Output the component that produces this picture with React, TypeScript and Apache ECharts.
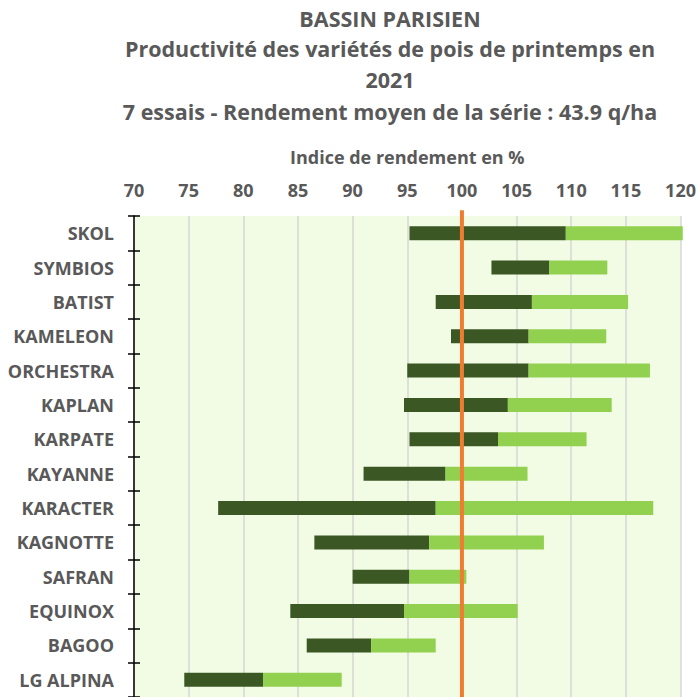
import React, { useEffect, useRef } from "react";
import * as echarts from "echarts";

const categories = ["SKOL", "SYMBIOS", "BATIST", "KAMELEON", "ORCHESTRA", "KAPLAN", "KARPATE", "KAYANNE", "KARACTER", "KAGNOTTE", "SAFRAN", "EQUINOX", "BAGOO", "LG ALPINA"];
const minValues = [95.2, 102.7, 97.6, 99.0, 95.0, 94.7, 95.2, 91.0, 77.7, 86.5, 90.0, 84.3, 85.8, 74.6];
const meanValues = [109.5, 108.0, 106.4, 106.1, 106.1, 104.2, 103.3, 98.5, 97.6, 97.0, 95.2, 94.7, 91.7, 81.8];
const maxValues = [120.2, 113.3, 115.2, 113.2, 117.2, 113.7, 111.4, 106.0, 117.5, 107.5, 100.4, 105.1, 97.6, 89.0];
const referenceValue = 100;
const titleLines = [
  "BASSIN PARISIEN",
  "Productivité des variétés de pois de printemps en",
  "2021",
  "7 essais - Rendement moyen de la série : 43.9 q/ha",
];
const xAxisName = "Indice de rendement en %";

const FONT = "'Open Sans', 'Noto Sans', sans-serif";
const GREY = "#595959";
const titleTops = [0, 30, 61, 93];

export default function App() {
  const ref = useRef<HTMLDivElement>(null);
  useEffect(() => {
    if (!ref.current) return;
    const chart = echarts.init(ref.current, null, { renderer: "svg" });
    const lowBand = meanValues.map((m, i) => +(m - minValues[i]).toFixed(2));
    const highBand = maxValues.map((m, i) => +(m - meanValues[i]).toFixed(2));
    chart.setOption({
      animation: false,
      title: titleLines.map((t, i) => ({
        text: t,
        left: 385,
        top: titleTops[i],
        textAlign: "center",
        textStyle: {
          fontFamily: FONT,
          fontWeight: "bold",
          fontSize: 21.5,
          color: GREY,
          lineHeight: 26,
        },
      })),
      grid: {
        left: 134,
        right: 15,
        top: 216,
        height: 484,
        show: true,
        backgroundColor: "#F2FCE4",
        borderWidth: 0,
      },
      xAxis: {
        type: "value",
        position: "top",
        min: 70,
        max: 120,
        interval: 5,
        name: xAxisName,
        nameLocation: "middle",
        nameGap: 50,
        nameTextStyle: { fontFamily: FONT, fontWeight: "bold", fontSize: 18, color: GREY },
        axisLine: { show: false },
        axisTick: { show: false },
        axisLabel: { fontFamily: FONT, fontWeight: "bold", fontSize: 18, color: GREY, margin: 17 },
        splitLine: { show: true, lineStyle: { color: "#D6D6D6", width: 1.5 } },
      },
      yAxis: [
        {
          type: "category",
          data: categories,
          inverse: true,
          position: "left",
          axisLine: { show: true, lineStyle: { color: "#000", width: 1.5 } },
          axisTick: { show: true, length: 6, lineStyle: { color: "#000", width: 1.5 } },
          axisLabel: { fontFamily: FONT, fontWeight: "bold", fontSize: 18, color: GREY, margin: 20 },
          splitLine: { show: false },
        },
        {
          type: "category",
          data: categories,
          inverse: true,
          position: "left",
          offset: 0,
          axisLine: { show: false },
          axisTick: { show: true, inside: true, length: 6, lineStyle: { color: "#000", width: 1.5 } },
          axisLabel: { show: false },
          splitLine: { show: false },
        },
        {
          type: "value",
          min: 0,
          max: 14,
          inverse: true,
          show: false,
        },
      ],
      series: [
        {
          type: "bar",
          stack: "range",
          yAxisIndex: 0,
          data: minValues,
          barWidth: 14,
          itemStyle: { color: "transparent" },
          silent: true,
          clip: false,
        },
        {
          type: "bar",
          stack: "range",
          yAxisIndex: 0,
          data: lowBand,
          barWidth: 14,
          itemStyle: { color: "#3A5724" },
          clip: false,
        },
        {
          type: "bar",
          stack: "range",
          yAxisIndex: 0,
          data: highBand,
          barWidth: 14,
          itemStyle: { color: "#92D050" },
          clip: false,
        },
        {
          type: "line",
          yAxisIndex: 2,
          data: [
            [referenceValue, -0.17],
            [referenceValue, 14],
          ],
          symbol: "none",
          clip: false,
          lineStyle: { color: "#ED7D31", width: 4 },
          z: 5,
        },
      ],
    });
    return () => chart.dispose();
  }, []);
  return <div ref={ref} style={{ width: 699, height: 697, position: "absolute", left: 0, top: 0 }} />;
}
